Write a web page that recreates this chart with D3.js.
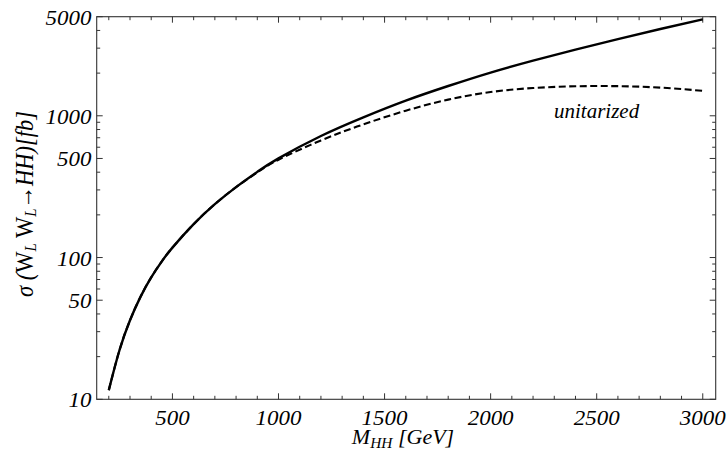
<!DOCTYPE html>
<html>
<head>
<meta charset="utf-8">
<script src="https://cdn.jsdelivr.net/npm/d3@7"></script>
<style>
  body { margin: 0; background: #fff; }
  text { font-family: "Liberation Serif", "Times New Roman", serif; font-style: italic; fill: #000; }
</style>
</head>
<body>
<svg id="chart" width="727" height="464"></svg>
<script>
// M_HH in GeV
var mass = [200, 250, 300, 350, 400, 450, 500, 600, 700, 800, 900, 1000, 1200, 1400, 1600, 1800, 2000, 2200, 2400, 2600, 2800, 3000];
// sigma in fb, plain (solid) and unitarized (dashed)
var sigmaFull = [11.6, 22.1, 36.1, 53, 72.5, 94, 117.5, 172, 238, 314, 402, 501, 720, 975, 1279, 1622, 2018, 2449, 2931, 3475, 4093, 4786];
var sigmaUnit = [11.6, 22.1, 36.1, 53, 72.5, 94, 117.5, 172, 238, 314, 399, 490, 670, 870, 1086, 1300, 1470, 1570, 1615, 1618, 1580, 1500];

var yTickLabels = [10, 50, 100, 500, 1000, 5000];
var xTickLabels = [500, 1000, 1500, 2000, 2500, 3000];

var svg = d3.select("#chart");
var stretch = 1.12;   // the reference glyphs are a bit wide

// plot box (careful: "top" is taken by window)
var pL = 96.7, pR = 715.7, pT = 16.7, pB = 399.3;

var x = d3.scaleLinear().domain([143, 3061]).range([pL, pR]);
var y = d3.scaleLog().domain([10, 5000]).range([pB, pT]);

// minor ticks
var xMinor = d3.range(200, 3001, 100).filter(function(d) { return d % 500 != 0; });
var yMinor = [];
[10, 100, 1000].forEach(function(dec) {
    for (var k = 2; k <= 9; k++) {
        var v = k * dec;
        if (v <= 5000 && yTickLabels.indexOf(v) < 0) yMinor.push(v);
    }
});

var g = svg.append("g");

// frame
g.append("rect")
    .attr("x", pL)
    .attr("y", pT)
    .attr("width", pR - pL)
    .attr("height", pB - pT)
    .style("fill", "none")
    .attr("stroke", "#333")
    .attr("stroke-width", 1.1);

function tickLines(vals, scale, horiz, len) {
    vals.forEach(function(v) {
        var p = scale(v);
        if (horiz) {
            g.append("line").attr("x1", p).attr("x2", p).attr("y1", pB).attr("y2", pB - len)
                .attr("stroke", "#333").attr("stroke-width", 1);
            g.append("line").attr("x1", p).attr("x2", p).attr("y1", pT).attr("y2", pT + len)
                .attr("stroke", "#333").attr("stroke-width", 1);
        } else {
            g.append("line").attr("y1", p).attr("y2", p).attr("x1", pL).attr("x2", pL + len)
                .attr("stroke", "#333").attr("stroke-width", 1);
            g.append("line").attr("y1", p).attr("y2", p).attr("x1", pR).attr("x2", pR - len)
                .attr("stroke", "#333").attr("stroke-width", 1);
        }
    });
}
tickLines(xTickLabels, x, true, 6);
tickLines(xMinor, x, true, 3.5);
tickLines(yTickLabels, y, false, 6);
tickLines(yMinor, y, false, 3.5);

// tick labels
g.selectAll("text_x")
    .data(xTickLabels)
    .enter()
    .append("text")
    .attr("transform", function(d) { return "translate(" + x(d) + ",425) scale(" + stretch + ",1)"; })
    .attr("text-anchor", "middle")
    .attr("font-size", "20.5px")
    .text(function(d) { return d; });

g.selectAll("text_y")
    .data(yTickLabels)
    .enter()
    .append("text")
    .attr("transform", function(d) { return "translate(91.5," + (y(d) + 8) + ") scale(" + stretch + ",1)"; })
    .attr("text-anchor", "end")
    .attr("font-size", "20.5px")
    .text(function(d) { return d; });

// curves
var line1 = d3.line()
    .x(function(d, i) { return x(mass[i]); })
    .y(function(d) { return y(d); })
    .curve(d3.curveNatural);

g.append("path")
    .attr("d", line1(sigmaUnit))
    .style("fill", "none")
    .attr("stroke", "#000")
    .attr("stroke-width", 2.1)
    .attr("stroke-dasharray", "7,3.5");

g.append("path")
    .attr("d", line1(sigmaFull))
    .style("fill", "none")
    .attr("stroke", "#000")
    .attr("stroke-width", 2.4);

// label
g.append("text")
    .attr("transform", "translate(554,118) scale(1.05,1)")
    .attr("font-size", "20px")
    .text("unitarized");

// x title
var xt = g.append("text")
    .attr("transform", "translate(403,444) scale(1.1,1)")
    .attr("text-anchor", "middle")
    .attr("font-size", "20px");
xt.append("tspan").text("M");
xt.append("tspan").attr("font-size", "14px").attr("dy", 4).text("HH");
xt.append("tspan").attr("dy", -4).text(" [GeV]");

// y title
var yt = g.append("text")
    .attr("transform", "translate(33,204) rotate(-90) scale(1," + stretch + ")")
    .attr("text-anchor", "middle")
    .attr("font-size", "22.5px");
yt.append("tspan").text("σ (");
yt.append("tspan").style("font-style", "normal").text("W");
yt.append("tspan").attr("font-size", "15px").attr("dy", 3).text("L");
yt.append("tspan").attr("dy", -3).style("font-style", "normal").text(" W");
yt.append("tspan").attr("font-size", "15px").attr("dy", 3).text("L");
yt.append("tspan").attr("dy", -3).style("font-style", "normal").text("→");
yt.append("tspan").text("HH)[");
yt.append("tspan").text("fb");
yt.append("tspan").text("]");
</script>
</body>
</html>
